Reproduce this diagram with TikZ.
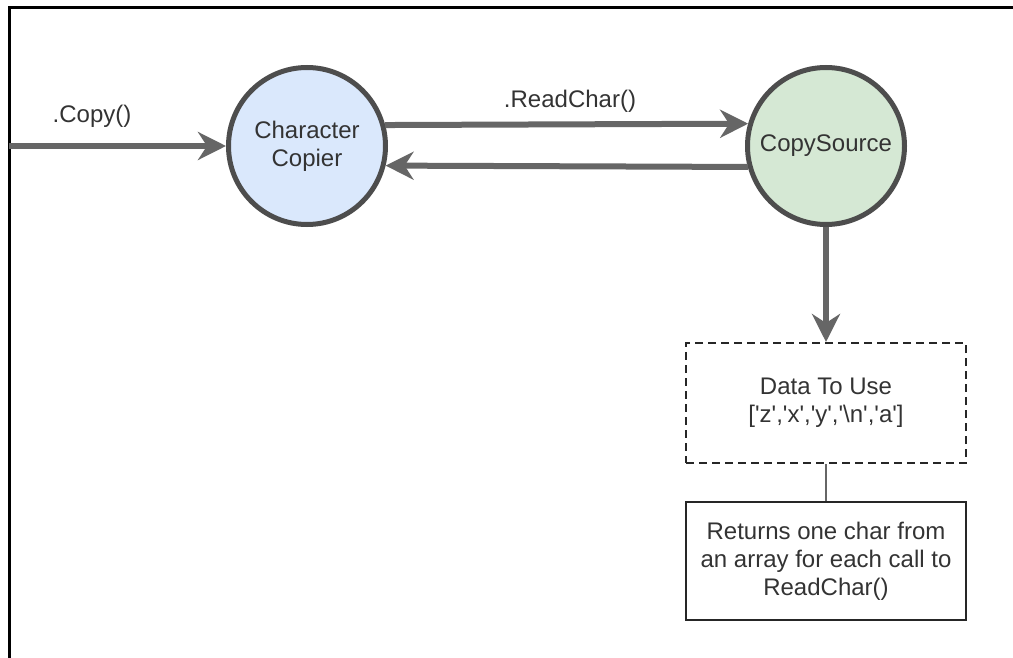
\documentclass[tikz,border=0pt]{standalone}
\usepackage{fontspec}
\setmainfont{Liberation Sans}[Ligatures=TeXOff]
\usetikzlibrary{arrows.meta}
\definecolor{edge}{HTML}{666666}
\definecolor{rim}{HTML}{4D4D4D}
\definecolor{ink}{HTML}{333333}
\definecolor{copierfill}{HTML}{DAE8FC}
\definecolor{sourcefill}{HTML}{D5E8D4}
\begin{document}
\begin{tikzpicture}[x=0.5pt,y=-0.5pt,
  every node/.style={font=\fontsize{12}{14}\selectfont, text=ink, align=center},
  actor/.style={circle, draw=rim, line width=2.5pt, minimum size=78.5pt, inner sep=0pt},
  databox/.style={draw=black!85, line width=1pt, dash pattern=on 4pt off 2.5pt,
    minimum width=140pt, minimum height=60pt, inner sep=0pt},
  notebox/.style={draw=black!85, line width=1pt,
    minimum width=140pt, minimum height=59pt, inner sep=0pt},
  flow/.style={draw=edge, line width=3pt,
    -{Stealth[length=14pt,width=14pt,inset=4.5pt]}},
  link/.style={draw=edge, line width=1pt},
  label/.style={text=ink}]
  \useasboundingbox (0,0) rectangle (1013,658);

  % page frame
  \draw[line width=1.5pt, line cap=rect] (9,658) -- (9,8) -- (1013,8);

  % actors
  \node[actor, fill=copierfill] (cc) at (307,146) {Character\\Copier};
  \node[actor, fill=sourcefill] (cs) at (826,146) {CopySource};

  % data and note boxes
  \node[databox] (data) at (826,403) {Data To Use\\{}['z','x','y','\textbackslash n','a']};
  \node[notebox] (ret) at (826,561) {Returns one char from\\an array for each call to\\ReadChar()};

  % incoming call
  \coordinate (entry) at (9,146);
  \draw[flow] (entry) -- (cc.west);
  \node[label] (copylbl) at (92,116) {.Copy()};

  % read request and reply
  \draw[flow] (cc.15.8) -- (cs.164.2);
  \node[label] (readlbl) at (570,101) {.ReadChar()};
  \draw[flow] (cs.-165.7) -- (cc.-14.3);

  % source to data
  \draw[flow] (cs.south) -- (data.north);
  \draw[link] (data.south) -- (ret.north);
\end{tikzpicture}
\end{document}
